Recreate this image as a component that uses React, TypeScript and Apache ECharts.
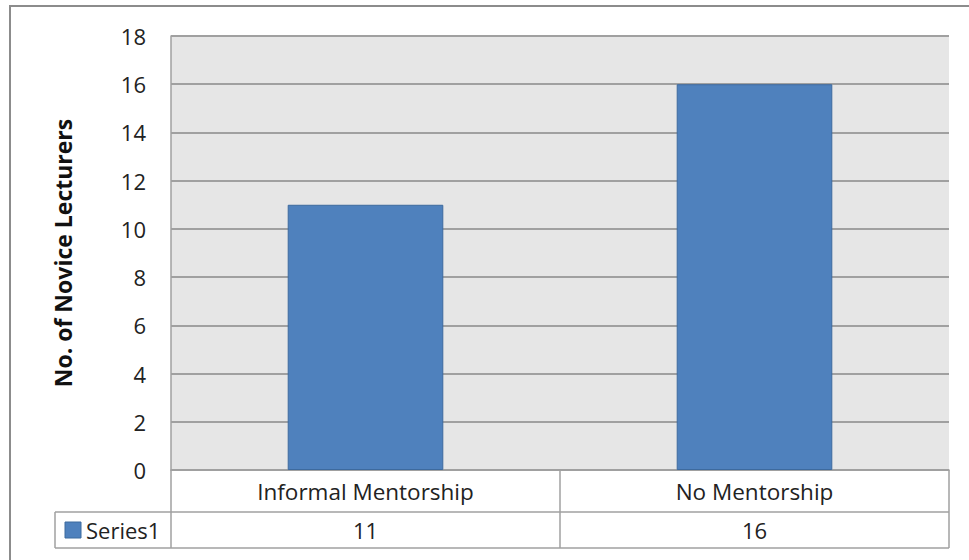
import React, { useEffect, useRef } from "react";
import * as echarts from "echarts";

const categories = ["Informal Mentorship", "No Mentorship"];
const series1 = [11, 16];
const seriesName = "Series1";
const yTicks = { min: 0, max: 18, interval: 2 };
const yTitle = "No. of Novice Lecturers";

const FONT = "'Open Sans', 'Noto Sans', sans-serif";
const BAR = "#4f81bd";
const LINE = "#a0a0a0";

export default function App() {
  const ref = useRef<HTMLDivElement>(null);
  useEffect(() => {
    if (!ref.current) return;
    const chart = echarts.init(ref.current, undefined, { renderer: "svg" });
    const gl = 171, gt = 36, gw = 778, gh = 434;
    const row1B = 512, row2B = 548, legL = 55;
    const n = categories.length;
    const colW = gw / n;
    const graphics: any[] = [];
    // outer frame
    graphics.push({
      type: "rect",
      shape: { x: 10, y: 6, width: 980, height: 580 },
      style: { fill: "none", stroke: "#8c8c8c", lineWidth: 2 },
      silent: true,
    });
    const hl = (x1: number, x2: number, y: number) =>
      graphics.push({ type: "line", shape: { x1, y1: y, x2, y2: y }, style: { stroke: LINE, lineWidth: 1.5 } });
    const vl = (x: number, y1: number, y2: number) =>
      graphics.push({ type: "line", shape: { x1: x, y1, x2: x, y2 }, style: { stroke: LINE, lineWidth: 1.5 } });
    hl(legL, gl + gw, row1B);
    hl(legL, gl + gw, row2B);
    vl(legL, row1B, row2B);
    for (let i = 0; i <= n; i++) vl(gl + colW * i, gt + gh, row2B);
    categories.forEach((c, i) => {
      const cx = gl + colW * (i + 0.5);
      graphics.push({
        type: "text",
        x: cx,
        y: (gt + gh + row1B) / 2,
        style: { text: c, font: `22.5px ${FONT}`, fill: "#222", align: "center", verticalAlign: "middle" },
      });
      graphics.push({
        type: "text",
        x: cx,
        y: (row1B + row2B) / 2,
        style: { text: String(series1[i]), font: `22px ${FONT}`, fill: "#222", align: "center", verticalAlign: "middle" },
      });
    });
    graphics.push({
      type: "rect",
      shape: { x: 65, y: 522, width: 16, height: 16 },
      style: { fill: BAR, stroke: "#3d6a9e", lineWidth: 1 },
    });
    graphics.push({
      type: "text",
      x: 86,
      y: (row1B + row2B) / 2,
      style: { text: seriesName, font: `22px ${FONT}`, fill: "#222", align: "left", verticalAlign: "middle" },
    });

    chart.setOption({
      animation: false,
      backgroundColor: "#ffffff",
      grid: {
        left: gl, top: gt, width: gw, height: gh,
        show: true, backgroundColor: "#e6e6e6", borderWidth: 0,
      },
      xAxis: {
        type: "category",
        data: categories,
        axisLine: { show: true, lineStyle: { color: LINE, width: 1.5 } },
        axisTick: { show: false },
        axisLabel: { show: false },
        splitLine: { show: false },
      },
      yAxis: {
        type: "value",
        min: yTicks.min,
        max: yTicks.max,
        interval: yTicks.interval,
        name: yTitle,
        nameLocation: "middle",
        nameGap: 97,
        nameTextStyle: { fontFamily: FONT, fontSize: 23, fontWeight: "bold", color: "#111" },
        axisLine: { show: true, lineStyle: { color: LINE, width: 1.5 } },
        axisTick: { show: false },
        axisLabel: { fontFamily: FONT, fontSize: 22, color: "#222", margin: 25 },
        splitLine: { show: true, lineStyle: { color: LINE, width: 2 } },
      },
      series: [
        {
          name: seriesName,
          type: "bar",
          data: series1,
          barWidth: "40%",
          itemStyle: { color: BAR, borderColor: "#3d6a9e", borderWidth: 1 },
        },
      ],
      graphic: graphics,
    });
    return () => chart.dispose();
  }, []);
  return <div ref={ref} style={{ position: "fixed", left: 0, top: 0, width: 969, height: 560 }} />;
}
